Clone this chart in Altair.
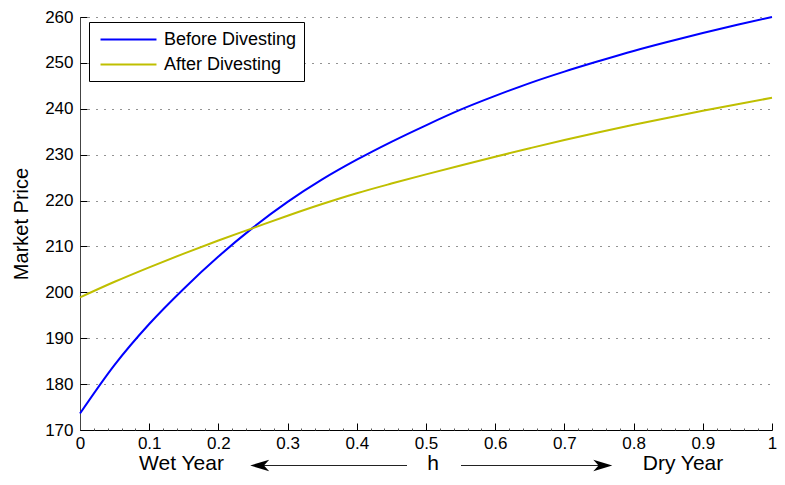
import altair as alt
import pandas as pd

FONT = "Liberation Sans"

# ---- data ----
h = [0.0, 0.05, 0.1, 0.15, 0.2, 0.25, 0.3, 0.35, 0.4, 0.45, 0.5,
     0.55, 0.6, 0.65, 0.7, 0.75, 0.8, 0.85, 0.9, 0.95, 1.0]
before = [173.6, 184.2, 193.1, 200.8, 207.8, 214.1, 219.7, 224.6, 228.9, 232.8, 236.4,
          239.8, 242.8, 245.6, 248.1, 250.4, 252.6, 254.6, 256.5, 258.3, 260.0]
after = [198.9, 202.3, 205.45, 208.45, 211.3, 214.0, 216.7, 219.25, 221.6, 223.7, 225.7,
         227.65, 229.55, 231.4, 233.2, 234.9, 236.5, 238.05, 239.55, 241.0, 242.4]
series_names = ["Before Divesting", "After Divesting"]
series_colors = ["#0000ff", "#bfbf00"]
x_ticks = [0.0, 0.1, 0.2, 0.3, 0.4, 0.5, 0.6, 0.7, 0.8, 0.9, 1.0]
x_minor = [0.02, 0.04, 0.06, 0.08, 0.12, 0.14, 0.16, 0.18, 0.22, 0.24, 0.26, 0.28,
           0.32, 0.34, 0.36, 0.38, 0.42, 0.44, 0.46, 0.48, 0.52, 0.54, 0.56, 0.58,
           0.62, 0.64, 0.66, 0.68, 0.72, 0.74, 0.76, 0.78, 0.82, 0.84, 0.86, 0.88,
           0.92, 0.94, 0.96, 0.98]
y_ticks = [170, 180, 190, 200, 210, 220, 230, 240, 250, 260]
y_title = "Market Price"
x_left_label = "Wet Year"
x_mid_label = "h"
x_right_label = "Dry Year"

rows = []
for name, vals in zip(series_names, [before, after]):
    for xv, yv in zip(h, vals):
        rows.append({"h": xv, "price": yv, "series": name})
df = pd.DataFrame(rows)

W, H = 692, 413
xs = alt.Scale(domain=[0, 1], nice=False, zero=False)
ys = alt.Scale(domain=[170, 260], nice=False, zero=False)

base = alt.Chart(df)

# legend symbol: a long horizontal stroke drawn with a small symbol size
LINE_SHAPE = "M-3,0H3"

lines = base.mark_line(strokeWidth=2, interpolate="monotone").encode(
    x=alt.X("h:Q", scale=xs, axis=alt.Axis(
        orient="bottom", values=x_ticks, format="~g", labelFont=FONT, labelFontSize=17,
        labelColor="black", labelPadding=5, ticks=False, tickSize=0, domainColor="black",
        domainWidth=1, grid=False, title=None, labelFlush=False)),
    y=alt.Y("price:Q", scale=ys, axis=alt.Axis(
        orient="left", values=y_ticks, labelFont=FONT, labelFontSize=17, labelColor="black",
        ticks=False, tickSize=0, labelPadding=7, domainColor="#444", domainWidth=1,
        grid=True, gridDash=[1, 7], gridColor="black", gridOpacity=0.85, gridWidth=1,
        title=y_title, titleFont=FONT, titleFontSize=20, titleFontWeight="normal",
        titleColor="black", titlePadding=13, labelFlush=False)),
    color=alt.Color("series:N", scale=alt.Scale(domain=series_names, range=series_colors),
                    legend=alt.Legend(orient="none", legendX=9, legendY=5, title=None,
                                      symbolType=LINE_SHAPE, symbolSize=348, symbolStrokeWidth=2,
                                      symbolOffset=22, labelOffset=25,
                                      labelFont=FONT, labelFontSize=18, labelColor="black",
                                      strokeColor="black", fillColor="white", padding=7,
                                      rowPadding=5)),
)

major_ticks = base.mark_line(opacity=0).encode(
    x=alt.X("h:Q", scale=xs, axis=alt.Axis(
        orient="bottom", values=x_ticks, labels=False, domain=False, grid=False,
        ticks=True, tickSize=7, offset=-7, tickColor="black", title=None)),
    y=alt.Y("price:Q", scale=ys, axis=alt.Axis(
        orient="left", values=y_ticks, labels=False, domain=False, grid=False,
        ticks=True, tickSize=7, offset=-7, tickColor="black", title=None)),
    detail="series:N",
)

minor_ticks = base.mark_line(opacity=0).encode(
    x=alt.X("h:Q", scale=xs, axis=alt.Axis(
        orient="bottom", values=x_minor, labels=False, domain=False, grid=False,
        ticks=True, tickSize=2, offset=-2, tickColor="#555", title=None)),
    y=alt.Y("price:Q", scale=ys, axis=None),
    detail="series:N",
)

one = alt.Data(values=[{"k": 1}])
TY = 447
AY = 448.5


def label(txt, px):
    return alt.Chart(one).mark_text(text=txt, font=FONT, fontSize=21, align="center",
                                    baseline="middle", color="black").encode(
        x=alt.value(px), y=alt.value(TY))


def shaft(x1, x2):
    return alt.Chart(one).mark_rule(color="#222", strokeWidth=1).encode(
        x=alt.value(x1), x2=alt.value(x2), y=alt.value(AY))


LEFT_HEAD = "M-1,0L1,-0.6L0.45,0L1,0.6Z"
RIGHT_HEAD = "M1,0L-1,-0.6L-0.45,0L-1,0.6Z"


def head(shape, px):
    return alt.Chart(one).mark_point(shape=shape, filled=True, color="black", opacity=1,
                                     size=361, strokeWidth=0).encode(
        x=alt.value(px), y=alt.value(AY))


annots = [
    label(x_left_label, 101.5), label(x_mid_label, 353), label(x_right_label, 603),
    shaft(182, 327), shaft(381, 520),
    head(LEFT_HEAD, 179.7), head(RIGHT_HEAD, 522.8),
]

chart = alt.layer(lines, major_ticks, minor_ticks, *annots).resolve_axis(
    x="independent", y="independent"
).properties(
    width=W, height=H,
    autosize=alt.AutoSizeParams(type="none"),
    padding={"left": 72, "top": 9, "right": 5, "bottom": 47},
    background="white",
).configure_view(stroke=None)

chart.save("out.html", embed_options={"renderer": "svg", "actions": False})
